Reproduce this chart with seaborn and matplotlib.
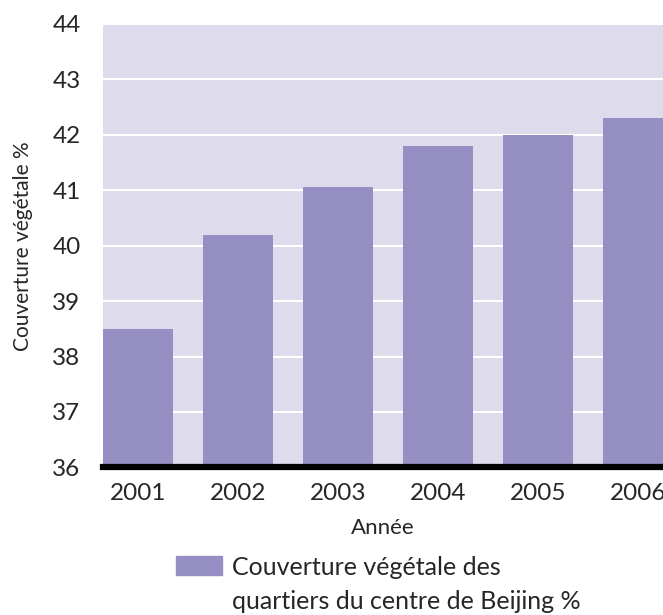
import matplotlib
matplotlib.use("Agg")
import matplotlib.pyplot as plt
from matplotlib.patches import Patch
import seaborn as sns
import pandas as pd

years = ["2001", "2002", "2003", "2004", "2005", "2006"]
couverture = [38.5, 40.2, 41.05, 41.8, 42.0, 42.3]
yticks = [36, 37, 38, 39, 40, 41, 42, 43, 44]

BAR = "#958fc4"
BG = "#dedcec"

sns.set_style("white")
plt.rcParams["font.family"] = ["Lato", "DejaVu Sans"]

df = pd.DataFrame({"annee": years, "valeur": couverture})

fig = plt.figure(figsize=(6.63, 6.15), dpi=100)
ax = fig.add_axes([0.155, 0.24, 0.845, 0.721])
ax.set_facecolor(BG)

sns.barplot(data=df, x="annee", y="valeur", color=BAR, saturation=1,
            width=0.7, linewidth=0, ax=ax, zorder=3)

ax.set_ylim(36, 44)
ax.set_xlim(-0.35, 5.25)
ax.set_yticks(yticks)
ax.set_yticklabels([str(t) for t in yticks])
ax.yaxis.grid(True, color="white", linewidth=1.5, zorder=1)
ax.set_axisbelow(True)
ax.tick_params(axis="both", length=0, labelsize=17.5)
ax.tick_params(axis="y", pad=16)
ax.tick_params(axis="x", pad=11)

for side in ["top", "right", "left"]:
    ax.spines[side].set_visible(False)
ax.spines["bottom"].set_color("black")
ax.spines["bottom"].set_linewidth(4.5)
ax.spines["bottom"].set_zorder(5)

ax.set_xlabel("Année", fontsize=16, labelpad=10)
ax.set_ylabel("Couverture végétale %", fontsize=15, labelpad=14)

leg = fig.legend(handles=[Patch(color=BAR)],
                 labels=["Couverture végétale des\nquartiers du centre de Beijing %"],
                 loc="upper left", bbox_to_anchor=(0.25, 0.112), frameon=False,
                 fontsize=18, handlelength=1.85, handleheight=0.8,
                 handletextpad=0.4, borderaxespad=0)
leg.get_texts()[0].set_linespacing(1.55)
hp = leg.get_patches()[0]
hp.set_y(hp.get_y() + 14)

fig.savefig("out.png", dpi=100)
